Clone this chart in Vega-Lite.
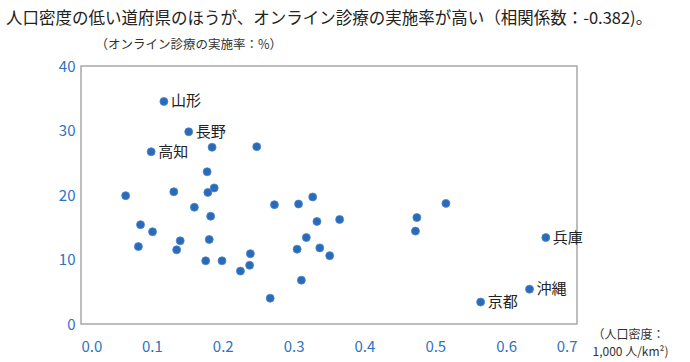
{
  "$schema": "https://vega.github.io/schema/vega-lite/v6.json",
  "autosize": {"type": "none"},
  "width": 496,
  "height": 258,
  "padding": {"left": 81, "top": 66, "right": 113, "bottom": 38},
  "background": "white",
  "title": {
    "text": "人口密度の低い道府県のほうが、オンライン診療の実施率が高い（相関係数：-0.382)。",
    "anchor": "start",
    "frame": "group",
    "dx": -75,
    "offset": 11,
    "fontSize": 16.5,
    "fontWeight": "normal",
    "color": "#222222",
    "font": "Noto Sans CJK JP"
  },
  "config": {
    "font": "Noto Sans CJK JP",
    "view": {"stroke": "#a8a8a8", "strokeWidth": 1.5}
  },
  "data": {
    "values": [
      {"density": 0.117, "rate": 34.5, "label": "山形"},
      {"density": 0.152, "rate": 29.8, "label": "長野"},
      {"density": 0.099, "rate": 26.7, "label": "高知"},
      {"density": 0.185, "rate": 27.4, "label": ""},
      {"density": 0.248, "rate": 27.5, "label": ""},
      {"density": 0.178, "rate": 23.6, "label": ""},
      {"density": 0.063, "rate": 19.9, "label": ""},
      {"density": 0.131, "rate": 20.5, "label": ""},
      {"density": 0.179, "rate": 20.4, "label": ""},
      {"density": 0.188, "rate": 21.1, "label": ""},
      {"density": 0.160, "rate": 18.1, "label": ""},
      {"density": 0.183, "rate": 16.7, "label": ""},
      {"density": 0.084, "rate": 15.4, "label": ""},
      {"density": 0.101, "rate": 14.3, "label": ""},
      {"density": 0.081, "rate": 12.0, "label": ""},
      {"density": 0.140, "rate": 12.9, "label": ""},
      {"density": 0.135, "rate": 11.5, "label": ""},
      {"density": 0.181, "rate": 13.1, "label": ""},
      {"density": 0.176, "rate": 9.8, "label": ""},
      {"density": 0.199, "rate": 9.8, "label": ""},
      {"density": 0.225, "rate": 8.2, "label": ""},
      {"density": 0.238, "rate": 9.1, "label": ""},
      {"density": 0.239, "rate": 10.9, "label": ""},
      {"density": 0.267, "rate": 4.0, "label": ""},
      {"density": 0.273, "rate": 18.5, "label": ""},
      {"density": 0.307, "rate": 18.6, "label": ""},
      {"density": 0.327, "rate": 19.7, "label": ""},
      {"density": 0.333, "rate": 15.9, "label": ""},
      {"density": 0.318, "rate": 13.4, "label": ""},
      {"density": 0.305, "rate": 11.6, "label": ""},
      {"density": 0.337, "rate": 11.8, "label": ""},
      {"density": 0.351, "rate": 10.6, "label": ""},
      {"density": 0.311, "rate": 6.8, "label": ""},
      {"density": 0.365, "rate": 16.2, "label": ""},
      {"density": 0.474, "rate": 16.5, "label": ""},
      {"density": 0.472, "rate": 14.4, "label": ""},
      {"density": 0.515, "rate": 18.7, "label": ""},
      {"density": 0.656, "rate": 13.4, "label": "兵庫"},
      {"density": 0.633, "rate": 5.4, "label": "沖縄"},
      {"density": 0.564, "rate": 3.4, "label": "京都"}
    ]
  },
  "encoding": {
    "x": {
      "field": "density",
      "type": "quantitative",
      "scale": {"domain": [0, 0.7], "nice": false},
      "axis": {
        "values": [0, 0.1, 0.2, 0.3, 0.4, 0.5, 0.6, 0.7],
        "format": ".1f",
        "grid": false,
        "ticks": false,
        "domain": false,
        "labelFontSize": 15,
        "labelColor": "#2e73c0",
        "labelPadding": 15,
        "title": ["（人口密度：", " 1,000 人/km²)"],
        "titleFontSize": 12,
        "titleFontWeight": "normal",
        "titleColor": "#333333",
        "titleAlign": "left",
        "titleBaseline": "middle",
        "titleX": 511,
        "titleY": 10,
        "titleLineHeight": 17,
        "titleAnchor": "start"
      }
    },
    "y": {
      "field": "rate",
      "type": "quantitative",
      "scale": {"domain": [0, 40], "nice": false},
      "axis": {
        "values": [0, 10, 20, 30, 40],
        "grid": false,
        "ticks": false,
        "domain": false,
        "labelFontSize": 15,
        "labelColor": "#2e73c0",
        "labelPadding": 6,
        "title": "（オンライン診療の実施率：%）",
        "titleAngle": 0,
        "titleFontSize": 12.5,
        "titleFontWeight": "normal",
        "titleColor": "#333333",
        "titleAlign": "left",
        "titleBaseline": "middle",
        "titleX": 14,
        "titleY": -22,
        "titleAnchor": "start"
      }
    }
  },
  "layer": [
    {
      "mark": {"type": "point", "filled": true, "size": 64, "color": "#2a6bb9", "opacity": 1, "stroke": "#4f87cc", "strokeWidth": 0.8}
    },
    {
      "mark": {"type": "text", "align": "left", "baseline": "middle", "dx": 7, "fontSize": 15, "color": "#222222"},
      "encoding": {"text": {"field": "label"}}
    }
  ]
}
